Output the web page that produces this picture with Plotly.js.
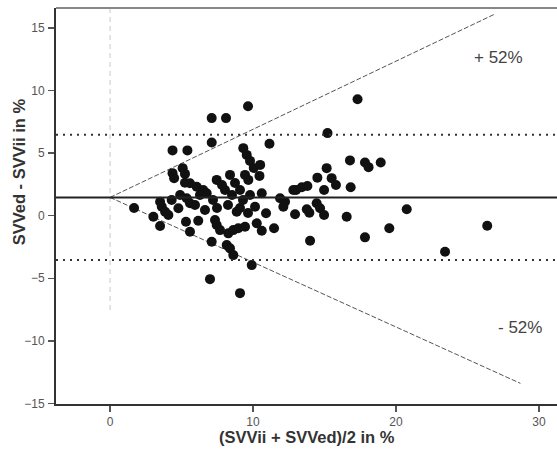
<!DOCTYPE html>
<html>
<head>
<meta charset="utf-8">
<script src="https://cdn.plot.ly/plotly-3.0.1.min.js"></script>
<style>
html,body{margin:0;padding:0;background:#fff;}
#chart{width:557px;height:453px;}
</style>
</head>
<body>
<div id="chart"></div>
<script>
// Bland-Altman data: mean of the two methods (x) and difference (y)
var meanSVV = [
  9.65, 7.11, 8.11, 17.31, 15.21, 7.11, 11.15, 4.37, 5.41,
  9.32, 9.56, 9.79, 10.05, 10.50, 10.45,
  16.78, 17.83, 18.08, 18.93, 15.15, 14.50, 15.50, 15.80, 14.97, 16.83,
  13.01, 13.41, 13.80, 10.61, 11.89, 12.24, 12.12, 10.14, 10.91,
  10.26, 10.61, 11.47, 12.94, 13.76, 13.94, 14.45, 14.69, 14.97, 16.55,
  20.75, 13.99, 17.83, 19.53, 26.38, 23.43, 9.91, 6.99, 9.09,
  1.68, 3.03, 3.50, 3.50, 3.62, 3.85, 4.08, 4.31, 4.78, 5.31, 5.59, 6.17,
  5.36, 5.59, 7.11, 7.34, 7.46, 7.69, 8.16, 8.39, 8.62, 8.86, 8.27, 8.62,
  8.97, 9.44, 4.37, 4.48, 5.08, 5.24, 8.39, 9.44, 9.67, 7.46, 5.59, 6.06,
  6.52, 6.76, 5.24, 12.82,
  7.20, 7.48, 8.04, 8.53, 9.09, 7.83, 6.29, 5.94, 6.64, 9.30, 9.79, 8.25,
  9.09, 9.65, 4.90, 8.74
];
var diffSVV = [
  8.75, 7.80, 7.80, 9.31, 6.60, 5.85, 5.75, 5.22, 5.22,
  5.40, 4.86, 4.38, 3.82, 4.06, 3.18,
  4.42, 4.25, 3.88, 4.25, 3.80, 3.04, 3.00, 2.46, 2.06, 2.28,
  2.06, 2.28, 2.38, 1.79, 1.39, 1.12, 0.72, 0.72, 0.19,
  -0.61, -1.20, -1.01, 0.11, 0.51, 0.24, 0.99, 0.59, 0.06, -0.08,
  0.51, -2.00, -1.73, -1.01, -0.80, -2.88, -3.95, -5.07, -6.19,
  0.62, -0.08, -0.83, 1.12, 0.72, 0.32, 0.06, 1.26, 0.59, -0.48, -1.28, -0.40,
  1.39, 0.99, -2.08, -0.34, -0.75, -1.15, -2.35, -2.61, -3.15, 0.32, -1.41, -1.15,
  -1.01, -0.88, 3.40, 3.00, 3.80, 3.34, 3.26, 3.26, 2.86, 2.86, 2.60, 2.32,
  2.06, 1.79, 2.64, 2.06,
  1.26, 0.62, 2.06, 1.66, 2.06, 2.46, 1.66, 0.86, 0.46, 1.26, 1.66, 0.86,
  0.62, 0.22, 1.66, 2.62
];

// Bias and limits of agreement
var bias = 1.46;
var upperLoA = 6.47;
var lowerLoA = -3.55;

// Percentage-error lines (+52% / -52%)
var upperPctX = [0, 26.85];
var upperPctY = [1.46, 16.08];
var lowerPctX = [0, 28.7];
var lowerPctY = [1.46, -13.4];

// Vertical reference line at x = 0
var refZeroX = [0, 0];
var refZeroY = [16.6, -7.6];

var xTicks = [0, 10, 20, 30];
var yTicks = [-15, -10, -5, 0, 5, 10, 15];

var labelUpper = '+ 52%';
var labelLower = '- 52%';
var xTitle = '(SVVii + SVVed)/2 in %';
var yTitle = 'SVVed - SVVii in %';

var traces = [
  {x: refZeroX, y: refZeroY, mode: 'lines', line: {color: '#c8c8c8', width: 1, dash: '5px,4px'}, hoverinfo: 'skip'},
  {x: upperPctX, y: upperPctY, mode: 'lines', line: {color: '#555', width: 1, dash: '5px,2px'}, hoverinfo: 'skip'},
  {x: lowerPctX, y: lowerPctY, mode: 'lines', line: {color: '#555', width: 1, dash: '5px,2px'}, hoverinfo: 'skip'},
  {x: meanSVV, y: diffSVV, mode: 'markers', marker: {color: '#111', size: 10, line: {width: 0}}}
];

var layout = {
  width: 557, height: 453,
  margin: {l: 56, r: 0, t: 8, b: 49},
  paper_bgcolor: '#fff', plot_bgcolor: '#fff',
  showlegend: false,
  font: {family: 'Liberation Sans, Arial, sans-serif', color: '#555'},
  xaxis: {
    range: [-3.78, 31.26], tickvals: xTicks, ticks: 'outside', ticklen: 6, tickwidth: 1.5, tickcolor: '#555',
    showgrid: false, zeroline: false, showline: true, linecolor: '#333', linewidth: 2,
    tickfont: {size: 12, color: '#555'}
  },
  yaxis: {
    range: [-15.05, 16.6], tickvals: yTicks, ticks: 'outside', ticklen: 6, tickwidth: 1.5, tickcolor: '#555',
    showgrid: false, zeroline: false, showline: true, linecolor: '#333', linewidth: 2,
    tickfont: {size: 12, color: '#555'}, ticklabelstandoff: 1
  },
  shapes: [
    {type: 'line', xref: 'paper', yref: 'y', x0: 0, x1: 1, y0: bias, y1: bias, line: {color: '#222', width: 2}},
    {type: 'line', xref: 'paper', yref: 'y', x0: 0, x1: 1, y0: upperLoA, y1: upperLoA, line: {color: '#333', width: 2, dash: '2px,5px'}},
    {type: 'line', xref: 'paper', yref: 'y', x0: 0, x1: 1, y0: lowerLoA, y1: lowerLoA, line: {color: '#333', width: 2, dash: '2px,5px'}},
    {type: 'line', xref: 'paper', yref: 'paper', x0: 0, x1: 1, y0: 1, y1: 1, line: {color: '#888', width: 2}}
  ],
  annotations: [
    {x: 27.2, y: 12.64, xref: 'x', yref: 'y', text: labelUpper, showarrow: false, font: {size: 17, color: '#444'}},
    {x: 28.7, y: -8.92, xref: 'x', yref: 'y', text: labelLower, showarrow: false, font: {size: 17, color: '#444'}},
    {x: 0.5, y: 0, xref: 'paper', yref: 'paper', xanchor: 'center', yanchor: 'middle', yshift: -33, text: '<b>' + xTitle + '</b>', showarrow: false, font: {size: 16.5, color: '#333'}},
    {x: 0, y: 0.585, xref: 'paper', yref: 'paper', xanchor: 'center', yanchor: 'middle', xshift: -37, text: '<b>' + yTitle + '</b>', showarrow: false, textangle: -90, font: {size: 16.5, color: '#333'}}
  ]
};

Plotly.newPlot('chart', traces, layout, {displayModeBar: false, staticPlot: true});
</script>
</body>
</html>
